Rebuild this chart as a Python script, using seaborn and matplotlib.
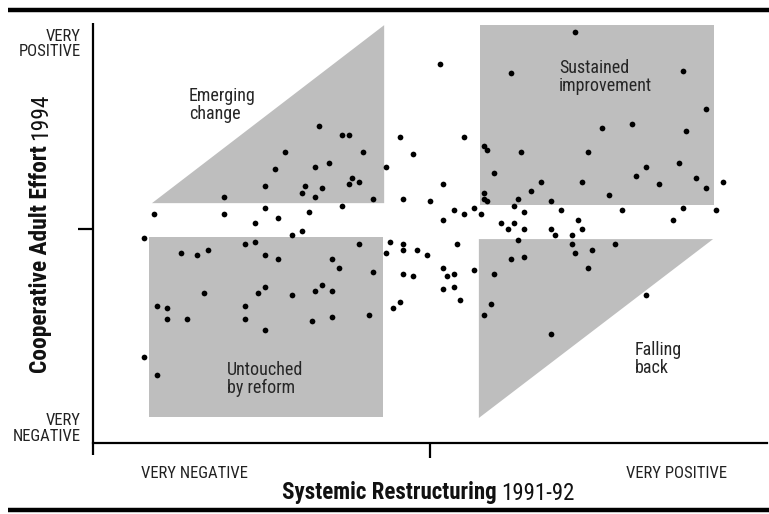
import matplotlib
matplotlib.use("Agg")
import matplotlib.pyplot as plt
from matplotlib import font_manager
from matplotlib.lines import Line2D
from matplotlib.patches import Polygon, Rectangle
import pandas as pd
import seaborn as sns

# Schools scored on two composite scales (-100 = very negative, +100 = very positive)
# Left half of the chart: restructuring at or below the midpoint
restructuring_west = [
    -33, -26, -24, -43, -20, -46, -34, -30, -13, -9, -5, 3, 4, -49, -37, -38,
    -32, -34, -23, -24, -21, -17, -61, -8, 0, -82, -61, -49, -36, -26, -45, 4,
    -52, -38, -41, -85, -74, -69, -66, -55, -52, -49, -45, -29, -27, -21, -17,
    -12, -13, -8, -8, -4, -1, 4, 5, 4, -8, -5, -9, -11, -18, -67, -51, -49,
    -41, -34, -32, -29, -81, -78, -78, -72, -55, -55, -49, -35, -29, -85, -81,
]
effort_west = [
    48, 44, 44, 36, 36, 28, 29, 31, 29, 43, 35, 77, 21, 20, 20, 17,
    19, 15, 24, 21, 22, 14, 15, 14, 13, 7, 7, 10, 8, 11, 5, 4,
    3, -1, -3, -4, -11, -12, -10, -7, -6, -12, -14, -14, -18, -7, -20,
    -6, -11, -7, -10, -10, -12, -18, -22, -28, -21, -22, -34, -37, -40, -30, -30, -27,
    -31, -29, -26, -29, -36, -37, -42, -42, -36, -42, -47, -43, -41, -60, -68,
]

# Right half of the chart: restructuring above the midpoint
restructuring_east = [
    43, 24, 75, 82, 51, 60, 76, 10, 16, 17, 27, 47, 74, 64, 61, 19,
    79, 68, 87, 82, 33, 45, 30, 53, 16, 16, 17, 26, 25, 36, 39, 28,
    7, 13, 10, 15, 57, 75, 85, 21, 25, 23, 28, 36, 44, 45, 37, 42,
    72, 8, 26, 42, 43, 48, 55, 24, 28, 47, 7, 13, 19, 7, 9, 18, 16, 64, 36,
]
effort_east = [
    92, 73, 74, 56, 47, 49, 46, 43, 39, 37, 36, 36, 31, 29, 25, 26,
    24, 21, 22, 19, 22, 22, 18, 16, 17, 14, 13, 14, 11, 13, 9, 8,
    9, 10, 7, 7, 9, 10, 9, 3, 3, 0, 0, 0, 4, 0, -3, -3,
    4, -7, -5, -7, -11, -10, -7, -14, -13, -18, -21, -19, -21, -27, -33, -35, -40, -31, -49,
]

x_ticklabels = ["VERY NEGATIVE", "VERY POSITIVE"]
y_ticklabels = ["VERY\nPOSITIVE", "VERY\nNEGATIVE"]
zone_labels = ["Emerging\nchange", "Sustained\nimprovement", "Untouched\nby reform", "Falling\nback"]

df = pd.DataFrame({
    "restructuring": restructuring_west + restructuring_east,
    "effort": effort_west + effort_east,
})

sns.set_theme(style="white")

# Prefer a narrow sans face; fall back to a condensed DejaVu cut, then Roboto
available = {f.name for f in font_manager.fontManager.ttflist}
narrow = [n for n in ("Liberation Sans Narrow", "Roboto Condensed", "Open Sans Condensed",
                      "DejaVu Sans Condensed") if n in available]
condensed_dejavu = any(f.name == "DejaVu Sans" and f.stretch == "condensed"
                       for f in font_manager.fontManager.ttflist)
if narrow:
    plt.rcParams["font.family"] = [narrow[0], "DejaVu Sans"]
elif condensed_dejavu:
    plt.rcParams["font.family"] = ["DejaVu Sans"]
    plt.rcParams["font.stretch"] = "condensed"
else:
    plt.rcParams["font.family"] = ["Roboto", "DejaVu Sans"]

W, H = 769, 514
fig = plt.figure(figsize=(W / 100, H / 100), dpi=100)
ax = fig.add_axes([93 / W, 1 - 443 / H, (767 - 93) / W, (443 - 23) / H])
X_MIN, X_MAX, Y_MIN, Y_MAX = -100, 100, -100, 96.3
ax.set_xlim(X_MIN, X_MAX)
ax.set_ylim(Y_MIN, Y_MAX)

# Shaded zones for the four patterns of change
ZONE = "#bebebe"
zones = [
    Polygon([(-82.5, 12.1), (-13.6, 95.3), (-13.6, 12.1)], closed=True),
    Rectangle((14.8, 11.2), 84.3 - 14.8, 95.3 - 11.2),
    Rectangle((-83.4, -87.9), -13.9 + 83.4, -3.7 + 87.9),
    Polygon([(14.5, -4.7), (84.0, -4.7), (14.5, -88.3)], closed=True),
]
for patch in zones:
    patch.set_facecolor(ZONE)
    patch.set_edgecolor("none")
    patch.set_zorder(0)
    ax.add_patch(patch)

sns.scatterplot(data=df, x="restructuring", y="effort", color="black", s=17,
                linewidth=0, ax=ax, zorder=3, legend=False)

label_kw = dict(fontsize=13, color="#262626", ha="left", va="top", linespacing=1.0, zorder=4)
ax.text(-71.5, 66.5, zone_labels[0], **label_kw)
ax.text(38.3, 79.5, zone_labels[1], **label_kw)
ax.text(-60.2, -61.5, zone_labels[2], **label_kw)
ax.text(60.8, -52.5, zone_labels[3], **label_kw)

# Axes frame: bottom spine plus a left rule running just past the x axis
for side in ("top", "right", "left"):
    ax.spines[side].set_visible(False)
ax.spines["bottom"].set_color("black")
ax.spines["bottom"].set_linewidth(1.6)
ax.plot([X_MIN, X_MIN], [-105.6, Y_MAX], color="black", lw=1.6, clip_on=False,
        solid_capstyle="butt", zorder=5)

ax.set_xticks([0])
ax.set_xticklabels([""])
ax.set_yticks([0])
ax.set_yticklabels([""])
ax.tick_params(axis="both", which="major", length=10.5, width=1.6, color="black",
               direction="out", bottom=True, left=True)
ax.set_xticks([-70, 73], labels=x_ticklabels, minor=True)
ax.set_yticks([87.4, -92.5], labels=y_ticklabels, minor=True)
ax.tick_params(axis="x", which="minor", length=0, pad=16.5, labelsize=12,
               labelcolor="#222222", bottom=True)
ax.tick_params(axis="y", which="minor", length=0, pad=9, labelsize=12,
               labelcolor="#222222", left=True)
for lbl in ax.get_yticklabels(minor=True):
    lbl.set_linespacing(1.05)
ax.set_xlabel("")
ax.set_ylabel("")

# Axis titles: bold measure name followed by the regular-weight year
TITLE_SIZE = 17
fig.canvas.draw()
renderer = fig.canvas.get_renderer()


def axis_title(bold, plain, cx, cy, span, vertical=False, gap=5):
    rot = 90 if vertical else 0
    t1 = fig.text(0, 0, bold, fontsize=TITLE_SIZE, fontweight="bold", rotation=rot, color="#111111")
    t2 = fig.text(0, 0, plain, fontsize=TITLE_SIZE, rotation=rot, color="#111111")
    e1 = t1.get_window_extent(renderer)
    e2 = t2.get_window_extent(renderer)
    length = (e1.height + e2.height) if vertical else (e1.width + e2.width)
    # fit the combined title into the available span
    scale = min(1.0, (span - gap) / length)
    t1.set_fontsize(TITLE_SIZE * scale)
    t2.set_fontsize(TITLE_SIZE * scale)
    e1 = t1.get_window_extent(renderer)
    e2 = t2.get_window_extent(renderer)
    if vertical:
        total = e1.height + gap + e2.height
        start = cy - total / 2
        t1.set_ha("center"); t1.set_va("bottom")
        t2.set_ha("center"); t2.set_va("bottom")
        t1.set_position((cx / W, start / H))
        t2.set_position((cx / W, (start + e1.height + gap) / H))
    else:
        total = e1.width + gap + e2.width
        start = cx - total / 2
        t1.set_ha("left"); t1.set_va("center")
        t2.set_ha("left"); t2.set_va("center")
        t1.set_position((start / W, cy / H))
        t2.set_position(((start + e1.width + gap) / W, cy / H))


axis_title("Systemic Restructuring", "1991-92", 428, H - 493, span=293)
axis_title("Cooperative Adult Effort", "1994", 41, H - 233, span=280, vertical=True)

# Heavy rules framing the figure
for y_px in (10, 510):
    fig.add_artist(Line2D([8 / W, 1], [1 - y_px / H] * 2, transform=fig.transFigure,
                          color="black", lw=3.2, solid_capstyle="butt"))

fig.savefig("out.png", dpi=100, facecolor="white")
